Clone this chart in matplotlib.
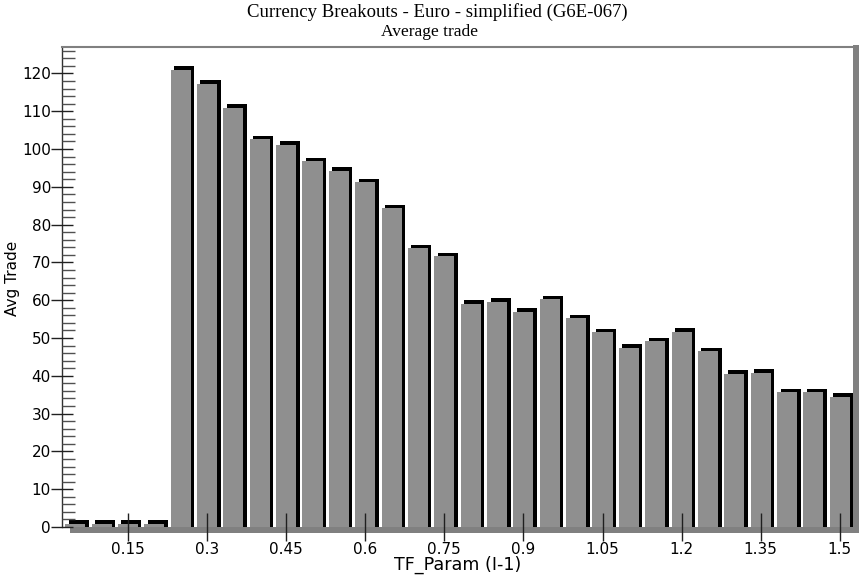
import numpy as np
import matplotlib
matplotlib.use("Agg")
import matplotlib.pyplot as plt
import matplotlib.transforms as mtransforms
from matplotlib.patches import Rectangle
from matplotlib.ticker import MultipleLocator

# ---- data ----
tf_param = [0.05, 0.10, 0.15, 0.20, 0.25, 0.30, 0.35, 0.40, 0.45, 0.50,
            0.55, 0.60, 0.65, 0.70, 0.75, 0.80, 0.85, 0.90, 0.95, 1.00,
            1.05, 1.10, 1.15, 1.20, 1.25, 1.30, 1.35, 1.40, 1.45, 1.50]
avg_trade = [0.8, 0.8, 0.8, 0.8, 121.0, 117.3, 110.9, 102.6, 101.1, 96.8,
             94.3, 91.2, 84.3, 73.7, 71.6, 59.1, 59.6, 56.9, 60.3, 55.2,
             51.5, 47.4, 49.2, 51.7, 46.5, 40.6, 40.8, 35.6, 35.7, 34.4]
x_ticks = [0.15, 0.3, 0.45, 0.6, 0.75, 0.9, 1.05, 1.2, 1.35, 1.5]
x_tick_labels = ["0.15", "0.3", "0.45", "0.6", "0.75", "0.9", "1.05", "1.2", "1.35", "1.5"]
y_ticks = list(range(0, 121, 10))

title1 = "Currency Breakouts - Euro - simplified (G6E-067)"
title2 = "Average trade"
xlabel = "TF_Param (I-1)"
ylabel = "Avg Trade"

W, H = 859, 576
fig = plt.figure(figsize=(W / 100, H / 100), dpi=100)
fig.patch.set_facecolor("white")

ax_l, ax_r, ax_t, ax_b = 62, 853, 47, 527
ax = fig.add_axes([ax_l / W, (H - ax_b) / H, (ax_r - ax_l) / W, (ax_b - ax_t) / H])
ax.set_xlim(0.025, 1.525)
ax.set_ylim(0, 127)

bar_w = 0.038
shadow = ax.transData + mtransforms.ScaledTranslation(0.035, 0.035, fig.dpi_scale_trans)
vals = np.array(avg_trade)
ax.bar(tf_param, vals + 2.0, bottom=-2.0, width=bar_w, color="black",
       transform=shadow, zorder=1, linewidth=0)
ax.bar(tf_param, vals, width=bar_w, color="#8f8f8f", zorder=1.2, linewidth=0)

# 3D-ish floor and right wall
def fig_rect(x0, y0, x1, y1, color, z):
    r = Rectangle((x0 / W, (H - y1) / H), (x1 - x0) / W, (y1 - y0) / H,
                  transform=fig.transFigure, facecolor=color, edgecolor="none",
                  clip_on=False, zorder=z)
    ax.add_artist(r)

fig_rect(70, 527, 859, 533, "#808080", 2)
fig_rect(853, 45, 859, 533, "#808080", 2)

# spines
for s in ["right", "bottom"]:
    ax.spines[s].set_visible(False)
ax.spines["top"].set_color("#808080")
ax.spines["top"].set_linewidth(1.5)
ax.spines["left"].set_color("#303030")
ax.spines["left"].set_linewidth(1.0)
ax.set_axisbelow(False)

font_sans = "DejaVu Sans"
ax.set_xticks(x_ticks)
ax.set_xticklabels(x_tick_labels, fontsize=11, family=font_sans)
ax.set_yticks(y_ticks)
ax.set_yticklabels([str(v) for v in y_ticks], fontsize=11, family=font_sans)
ax.yaxis.set_minor_locator(MultipleLocator(2))
ax.tick_params(axis="x", which="major", direction="inout", length=20, width=1,
               color="#202020", pad=1)
ax.tick_params(axis="y", which="major", direction="inout", length=16, width=1,
               color="#202020", pad=0)
ax.tick_params(axis="y", which="minor", direction="in", length=9, width=1,
               color="#505050")
ax.tick_params(axis="x", which="minor", length=0)

fig.text(12.5 / W, 1 - 278 / H, ylabel, rotation=90, ha="center", va="center",
         fontsize=11, family=font_sans)
fig.text(457.5 / W, 1 - 565 / H, xlabel, ha="center", va="center",
         fontsize=12.6, family=font_sans)
fig.text(437.5 / W, 1 - 12 / H, title1, ha="center", va="center",
         fontsize=13.5, family="Liberation Serif")
fig.text(429.5 / W, 1 - 32 / H, title2, ha="center", va="center",
         fontsize=12.5, family="Liberation Serif")

fig.savefig("out.png", dpi=100, facecolor="white")
